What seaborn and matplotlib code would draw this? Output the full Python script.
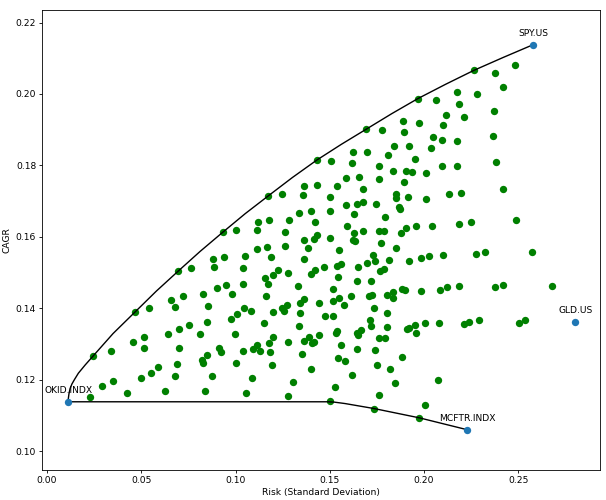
import matplotlib
matplotlib.use("Agg")
import matplotlib.pyplot as plt
import seaborn as sns
import pandas as pd

# random portfolios (risk, cagr)
port_risk = [
    0.1432, 0.1364, 0.1432, 0.1968, 0.2063, 0.2175, 0.2188, 0.2119, 0.1890, 0.1976,
    0.2100, 0.1693, 0.1777, 0.1895, 0.2047, 0.2097, 0.2176, 0.1843, 0.1923, 0.2037,
    0.1621, 0.1697, 0.1808, 0.1955, 0.1506, 0.1617, 0.1764, 0.2098, 0.2175, 0.1835,
    0.1904, 0.1939, 0.2010, 0.1587, 0.1656, 0.1759, 0.1893, 0.1538, 0.1677,
    0.2265, 0.2484, 0.2376, 0.2417, 0.2281, 0.2213, 0.2374, 0.2366, 0.2382, 0.2422,
    0.0694, 0.0466, 0.0541, 0.0658, 0.0681,
    0.1175, 0.1247, 0.1357, 0.1339, 0.1403, 0.1118, 0.1180, 0.1286, 0.1423, 0.0933,
    0.1000, 0.1115, 0.1260, 0.1435, 0.1414, 0.1363, 0.1168, 0.1260, 0.1387, 0.1115,
    0.1049, 0.0941, 0.0883, 0.1189, 0.1363, 0.0764, 0.0885, 0.1042, 0.1225, 0.1281,
    0.1423, 0.1398, 0.1200, 0.1159, 0.1171, 0.0949, 0.0901, 0.1039, 0.1332, 0.0830,
    0.0982, 0.0720, 0.1162, 0.1363, 0.1341, 0.1442, 0.0855, 0.1047, 0.1084, 0.1274,
    0.1246, 0.1258, 0.1201, 0.1009, 0.0977, 0.1343,
    0.1501, 0.1851, 0.1854, 0.1916, 0.2010, 0.2134, 0.1589, 0.1647, 0.1676, 0.1746,
    0.1867, 0.1872, 0.1501, 0.1630, 0.1792, 0.1592, 0.1679, 0.1630, 0.1764, 0.1787,
    0.1877, 0.1907, 0.1959, 0.2042, 0.2188, 0.1502, 0.1621, 0.1633, 0.1773, 0.1852,
    0.1548, 0.1732, 0.1700, 0.1741, 0.1815, 0.1920, 0.1984, 0.2028, 0.2102, 0.1469,
    0.1541, 0.1559, 0.1649, 0.1769, 0.1787, 0.1545, 0.1647, 0.1720, 0.1517, 0.1614,
    0.1711, 0.1724, 0.1803, 0.1835, 0.1835, 0.1881, 0.1897, 0.1987, 0.2086, 0.2123,
    0.2187, 0.1520, 0.1550, 0.1577, 0.1737, 0.1803, 0.1477, 0.1518, 0.1712,
    0.2198, 0.2249, 0.2489, 0.2277, 0.2323, 0.2574, 0.2378, 0.2419, 0.2681, 0.2210,
    0.2240, 0.2293, 0.2504, 0.2534,
    0.0244, 0.0340, 0.0455, 0.0513, 0.0513, 0.0641, 0.0702, 0.0702, 0.0688, 0.0681,
    0.0588, 0.0554, 0.0499, 0.0352, 0.0292, 0.0228, 0.0423, 0.0626,
    0.0752, 0.0848, 0.1150, 0.1339, 0.0811, 0.0996, 0.1200, 0.1177, 0.1276, 0.1389,
    0.1366, 0.1405, 0.1419, 0.1442, 0.0913, 0.0924, 0.1039, 0.1092, 0.1115, 0.1131,
    0.1184, 0.1355, 0.0848, 0.0821, 0.0830, 0.1003, 0.1194, 0.1398, 0.0877, 0.1088,
    0.1306, 0.0840, 0.1055, 0.1276,
    0.1532, 0.1541, 0.1644, 0.1649, 0.1667, 0.1720, 0.1803, 0.1909, 0.1923, 0.1950,
    0.1957, 0.2003, 0.2082, 0.1761, 0.1792, 0.1561, 0.1644, 0.1739, 0.1546, 0.1582,
    0.1881, 0.1753, 0.1821, 0.1617, 0.1847, 0.2072, 0.1527, 0.1764, 0.1502, 0.2006,
    0.1736, 0.1976,
]
port_cagr = [
    0.1815, 0.1742, 0.1744, 0.1987, 0.1982, 0.2006, 0.1971, 0.1941, 0.1924, 0.1920,
    0.1912, 0.1901, 0.1900, 0.1894, 0.1880, 0.1871, 0.1869, 0.1854, 0.1854, 0.1848,
    0.1837, 0.1837, 0.1829, 0.1819, 0.1813, 0.1808, 0.1798, 0.1798, 0.1798, 0.1785,
    0.1784, 0.1782, 0.1779, 0.1764, 0.1768, 0.1763, 0.1754, 0.1742, 0.1735,
    0.2066, 0.2081, 0.2058, 0.2019, 0.1999, 0.1936, 0.1953, 0.1882, 0.1809, 0.1733,
    0.1503, 0.1389, 0.1400, 0.1424, 0.1403,
    0.1715, 0.1719, 0.1717, 0.1668, 0.1672, 0.1642, 0.1648, 0.1648, 0.1642, 0.1613,
    0.1619, 0.1619, 0.1614, 0.1606, 0.1595, 0.1590, 0.1571, 0.1574, 0.1570, 0.1565,
    0.1546, 0.1543, 0.1537, 0.1543, 0.1537, 0.1512, 0.1515, 0.1513, 0.1507, 0.1499,
    0.1508, 0.1495, 0.1493, 0.1485, 0.1469, 0.1466, 0.1457, 0.1469, 0.1463, 0.1439,
    0.1439, 0.1434, 0.1434, 0.1425, 0.1414, 0.1414, 0.1406, 0.1401, 0.1391, 0.1409,
    0.1400, 0.1393, 0.1390, 0.1384, 0.1370, 0.1386,
    0.1711, 0.1720, 0.1708, 0.1711, 0.1707, 0.1720, 0.1690, 0.1693, 0.1697, 0.1692,
    0.1684, 0.1678, 0.1671, 0.1664, 0.1655, 0.1631, 0.1616, 0.1611, 0.1616, 0.1616,
    0.1611, 0.1626, 0.1631, 0.1629, 0.1637, 0.1598, 0.1592, 0.1588, 0.1584, 0.1569,
    0.1562, 0.1549, 0.1528, 0.1533, 0.1535, 0.1531, 0.1540, 0.1546, 0.1549, 0.1515,
    0.1519, 0.1524, 0.1515, 0.1504, 0.1509, 0.1488, 0.1477, 0.1477, 0.1453, 0.1434,
    0.1434, 0.1436, 0.1438, 0.1446, 0.1428, 0.1453, 0.1450, 0.1449, 0.1451, 0.1459,
    0.1462, 0.1421, 0.1429, 0.1409, 0.1400, 0.1387, 0.1378, 0.1377, 0.1366,
    0.1722, 0.1642, 0.1646, 0.1551, 0.1557, 0.1557, 0.1459, 0.1466, 0.1462, 0.1356,
    0.1362, 0.1367, 0.1359, 0.1367,
    0.1266, 0.1279, 0.1306, 0.1319, 0.1288, 0.1327, 0.1341, 0.1289, 0.1243, 0.1211,
    0.1235, 0.1220, 0.1205, 0.1196, 0.1182, 0.1151, 0.1163, 0.1169,
    0.1354, 0.1361, 0.1359, 0.1350, 0.1329, 0.1327, 0.1319, 0.1303, 0.1306, 0.1320,
    0.1308, 0.1303, 0.1305, 0.1326, 0.1289, 0.1277, 0.1279, 0.1285, 0.1296, 0.1281,
    0.1277, 0.1271, 0.1268, 0.1254, 0.1247, 0.1246, 0.1242, 0.1230, 0.1211, 0.1204,
    0.1193, 0.1169, 0.1164, 0.1153,
    0.1330, 0.1335, 0.1330, 0.1325, 0.1340, 0.1349, 0.1347, 0.1342, 0.1344, 0.1354,
    0.1330, 0.1359, 0.1359, 0.1317, 0.1317, 0.1297, 0.1287, 0.1283, 0.1260, 0.1251,
    0.1263, 0.1242, 0.1230, 0.1213, 0.1191, 0.1199, 0.1179, 0.1157, 0.1141, 0.1130,
    0.1119, 0.1093,
]

# efficient frontier line, from MCFTR round through OKID up to SPY
frontier_risk = [0.2228, 0.1976, 0.1736, 0.1582, 0.1525, 0.1490, 0.1000, 0.0112,
                 0.0113, 0.0116, 0.0122, 0.0132, 0.0145, 0.0166, 0.0202,
                 0.0244, 0.0350, 0.0466, 0.0580, 0.0694, 0.0812, 0.0933,
                 0.1052, 0.1175, 0.1302, 0.1432, 0.1562, 0.1693, 0.1830,
                 0.1968, 0.2115, 0.2265, 0.2420, 0.2580]
frontier_cagr = [0.1060, 0.1093, 0.1119, 0.1133, 0.1137, 0.1138, 0.1138, 0.1138,
                 0.1148, 0.1160, 0.1175, 0.1188, 0.1200, 0.1218, 0.1241,
                 0.1266, 0.1329, 0.1389, 0.1448, 0.1503, 0.1559, 0.1613,
                 0.1665, 0.1715, 0.1766, 0.1815, 0.1859, 0.1901, 0.1945,
                 0.1987, 0.2027, 0.2066, 0.2102, 0.2138]

# single assets
asset_names = ["SPY.US", "GLD.US", "OKID.INDX", "MCFTR.INDX"]
asset_risk = [0.2580, 0.2803, 0.0112, 0.2228]
asset_cagr = [0.2138, 0.1361, 0.1138, 0.1060]

ports = pd.DataFrame({"Risk": port_risk, "CAGR": port_cagr})
frontier = pd.DataFrame({"Risk": frontier_risk, "CAGR": frontier_cagr})
assets = pd.DataFrame({"name": asset_names, "Risk": asset_risk, "CAGR": asset_cagr})

fs = 6.6
plt.rcParams["font.family"] = ["DejaVu Sans"]
fig = plt.figure(figsize=(6.06, 5.0), dpi=100)
ax = fig.add_axes([0.0693, 0.06, 0.921, 0.92])

sns.scatterplot(data=ports, x="Risk", y="CAGR", color="green", s=28,
                linewidth=0, ax=ax, zorder=2)
sns.lineplot(data=frontier, x="Risk", y="CAGR", sort=False, estimator=None,
             color="black", linewidth=1.0, ax=ax, zorder=3)
sns.scatterplot(data=assets, x="Risk", y="CAGR", color="#1f77b4", s=28,
                linewidth=0, ax=ax, zorder=4)

for _, row in assets.iterrows():
    ax.annotate(row["name"], (row["Risk"], row["CAGR"]), xytext=(0, 5),
                textcoords="offset points", ha="center", va="bottom", fontsize=fs)

ax.set_xlim(-0.0027, 0.2935)
ax.set_ylim(0.0947, 0.2235)
ax.set_xticks([0.00, 0.05, 0.10, 0.15, 0.20, 0.25])
ax.set_yticks([0.10, 0.12, 0.14, 0.16, 0.18, 0.20, 0.22])
ax.xaxis.set_major_formatter(plt.FormatStrFormatter("%.2f"))
ax.yaxis.set_major_formatter(plt.FormatStrFormatter("%.2f"))
ax.tick_params(labelsize=fs, length=2.2, width=0.6, pad=2)
for sp in ax.spines.values():
    sp.set_linewidth(0.6)
ax.set_xlabel("Risk (Standard Deviation)", fontsize=fs, labelpad=2)
ax.set_ylabel("CAGR", fontsize=fs, labelpad=3)

fig.savefig("out.png", dpi=100)
